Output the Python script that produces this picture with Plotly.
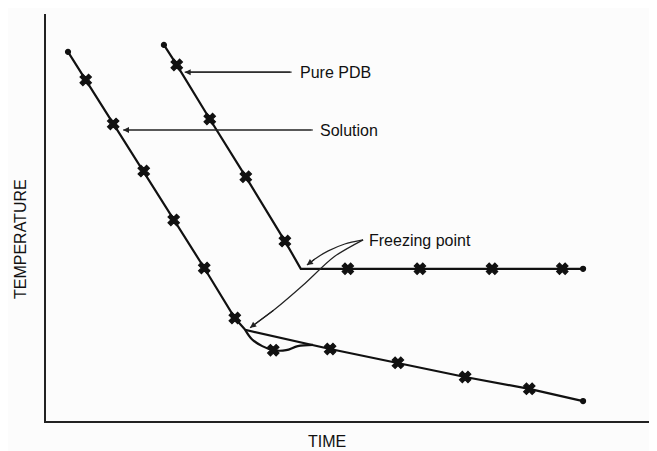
import plotly.graph_objects as go

# Data (arbitrary units)
solution_time = [3.6, 6.5, 11.0, 16.0, 20.9, 25.9, 30.9, 32.6, 46.5, 57.6, 68.6, 79.1, 87.9]
solution_temp = [90.7, 83.8, 73.0, 61.4, 49.4, 37.6, 25.3, 22.4, 17.7, 14.3, 10.8, 7.9, 4.9]
solution_kind = ["end", "x", "x", "x", "x", "x", "x", "break", "x", "x", "x", "x", "end"]

super_time = [32.6, 33.7, 35.4, 37.2, 39.3, 41.2, 43.7]
super_temp = [22.4, 20.1, 18.4, 17.4, 17.4, 18.4, 18.7]
super_kind = ["none", "none", "none", "x", "none", "none", "none"]

pdb_time = [19.3, 21.4, 26.8, 32.7, 39.1, 41.7, 49.4, 61.2, 73.0, 84.5, 87.9]
pdb_temp = [92.4, 87.5, 74.2, 60.0, 44.2, 37.4, 37.4, 37.4, 37.4, 37.4, 37.4]
pdb_kind = ["end", "x", "x", "x", "x", "break", "x", "x", "x", "x", "end"]

SYM = {"end": "circle", "x": "x", "break": "circle", "none": "circle"}
SIZE = {"end": 5, "x": 10, "break": 0, "none": 0}

FONT = "Liberation Sans, Arial, Helvetica, sans-serif"
INK = "#111111"

fig = go.Figure()


def add_series(t, T, kinds, shape="linear"):
    fig.add_trace(go.Scatter(
        x=t, y=T, mode="lines+markers",
        line=dict(color=INK, width=2.2, shape=shape, smoothing=1.0),
        marker=dict(color=INK, symbol=[SYM[k] for k in kinds],
                    size=[SIZE[k] for k in kinds], line=dict(width=1.2, color=INK),
                    opacity=1),
        showlegend=False, hoverinfo="skip"))


add_series(solution_time, solution_temp, solution_kind)
add_series(super_time, super_temp, super_kind, shape="spline")
add_series(pdb_time, pdb_temp, pdb_kind)


def arrow(path):
    """Leader line through all path points; arrowhead at the last point."""
    xs, ys = zip(*path)
    fig.add_trace(go.Scatter(x=xs, y=ys, mode="lines",
                             line=dict(color="#222222", width=1.2, shape="spline",
                                       smoothing=0.8),
                             showlegend=False, hoverinfo="skip"))
    fig.add_annotation(x=xs[-1], y=ys[-1], ax=xs[-2], ay=ys[-2], axref="x", ayref="y",
                       text="", showarrow=True, arrowhead=2, arrowsize=1.0,
                       arrowwidth=1.2, arrowcolor="#222222", standoff=0, startstandoff=0)


# Labels: (text, x, y) and leader paths ending at the arrowhead
labels = [("Pure PDB", 41.2, 85.7), ("Solution", 44.5, 71.5), ("Freezing point", 52.6, 44.3)]
leaders = [
    [(40.2, 85.7), (22.7, 85.7)],
    [(43.7, 71.5), (12.6, 71.5)],
    [(51.9, 44.5), (48.9, 43.5), (46.2, 41.8), (44.2, 40.0), (42.7, 38.3)],
    [(51.9, 44.5), (47.1, 40.3), (42.1, 33.4), (37.5, 27.5), (33.4, 22.9)],
]

for text, tx, ty in labels:
    fig.add_annotation(x=tx, y=ty, text=text, showarrow=False, xanchor="left",
                       yanchor="middle", font=dict(family=FONT, size=16, color=INK))
for path in leaders:
    arrow(path)

fig.add_annotation(x=0.46, y=-0.05, xref="paper", yref="paper", text="TIME",
                   xanchor="center", yanchor="middle", borderpad=0,
                   showarrow=False, font=dict(family=FONT, size=16, color=INK))
fig.add_annotation(x=-0.0426, y=0.447, xref="paper", yref="paper", text="TEMPERATURE",
                   xanchor="center", yanchor="middle",
                   textangle=-90, showarrow=False,
                   font=dict(family=FONT, size=16, color=INK))

fig.update_xaxes(range=[0, 100], showline=True, linecolor="#222222", linewidth=1.6,
                 showgrid=False, zeroline=False, showticklabels=False, ticks="")
fig.update_yaxes(range=[0, 100], showline=True, linecolor="#222222", linewidth=1.6,
                 showgrid=False, zeroline=False, showticklabels=False, ticks="")

# page body has an 8px default margin, so the figure is shrunk and shifted accordingly
fig.update_layout(width=649, height=443, margin=dict(l=38, r=0, t=6, b=30),
                  paper_bgcolor="#fcfcfc", plot_bgcolor="#fcfcfc")

fig.write_html("out.html")
